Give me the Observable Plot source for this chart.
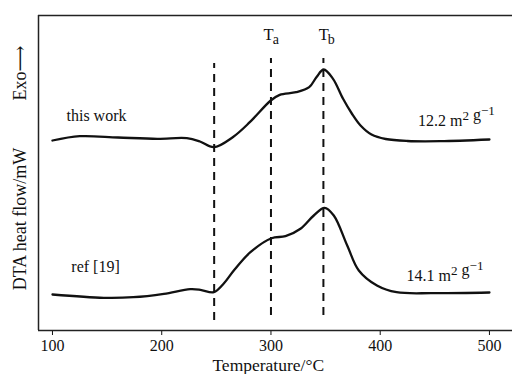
<!DOCTYPE html>
<html>
<head>
<meta charset="utf-8">
<script src="https://cdn.jsdelivr.net/npm/d3@7"></script>
<script src="https://cdn.jsdelivr.net/npm/@observablehq/plot@0.6"></script>
<style>
  html, body { margin: 0; padding: 0; background: #fff; }
  svg text { font-family: "Liberation Serif", "DejaVu Serif", serif; }
</style>
</head>
<body>
<div id="chart"></div>
<script>
// Temperature (°C) and DTA signal (arbitrary units, curves offset vertically)
const thisWorkT = [100, 125, 160, 196, 223, 235, 247.7, 265, 280.6, 299.8, 308, 323, 335, 341.6, 348.3, 356.8, 366, 374, 382, 392, 405, 425, 455, 500];
const thisWorkV = [190, 194.3, 193, 191.7, 192.3, 189, 183.3, 193.3, 208.3, 230, 235.7, 238.3, 243.3, 253.3, 261, 251.7, 231.7, 217, 205, 196, 191.5, 189.5, 189.3, 191];
const refT = [100, 147, 174, 202, 226, 235.4, 247.7, 256.8, 266, 281.2, 300.5, 313.3, 327, 339.2, 349, 357.5, 369.8, 380.4, 397, 415, 448, 500];
const refV = [36, 32.7, 33.3, 36.7, 41.3, 40.7, 38.3, 47, 60, 78.3, 92.3, 94.3, 101.7, 115, 122.7, 115, 85, 60, 45, 38.3, 37.3, 38];
const markers = [
  {t: 248, lo: 10, hi: 267},
  {t: 300, lo: 15, hi: 272},
  {t: 348, lo: 15, hi: 272}
];
const markerLabels = [{x: 297.7, t: "T", s: "a"}, {x: 348.3, t: "T", s: "b"}];
const curveLabels = [
  {x: 140.3, y: 214.4, text: "this work"},
  {x: 139.4, y: 63.4, text: "ref [19]"}
];
const areaLabels = [
  {x: 505, y: 210.1, text: "12.2 m^2 g^−1"},
  {x: 494.5, y: 55.1, text: "14.1 m^2 g^−1"}
];
const xTicks = [100, 200, 300, 400, 500];

const thisWork = thisWorkT.map((t, i) => ({t, v: thisWorkV[i]}));
const ref = refT.map((t, i) => ({t, v: refV[i]}));

const plot = Plot.plot({
  width: 512,
  height: 374,
  marginLeft: 38,
  marginRight: 0,
  marginTop: 15,
  marginBottom: 44,
  style: {fontFamily: "Liberation Serif, serif", fontSize: "16px", color: "#111", background: "#fff"},
  x: {domain: [87.2, 521.1], ticks: xTicks, tickSize: 5, tickPadding: 4, label: null},
  y: {domain: [0, 315], axis: null},
  marks: [
    Plot.ruleX([87.2], {stroke: "#222", strokeWidth: 1.5}),
    Plot.ruleY([0, 315], {stroke: "#222", strokeWidth: 1.5}),
    Plot.ruleX(markers, {x: "t", y1: "lo", y2: "hi", stroke: "#111", strokeWidth: 2, strokeDasharray: "8,6"}),
    Plot.line(thisWork, {x: "t", y: "v", curve: "catmull-rom", stroke: "#111", strokeWidth: 2.3}),
    Plot.line(ref, {x: "t", y: "v", curve: "catmull-rom", stroke: "#111", strokeWidth: 2.3}),
    Plot.text(markerLabels, {x: "x", y: () => 296, text: "t", fontSize: 16.5, textAnchor: "middle"}),
    Plot.text(markerLabels, {x: "x", y: () => 291.2, text: "s", dx: 7.5, fontSize: 14, textAnchor: "middle"}),
    Plot.text(curveLabels, {x: "x", y: "y", text: "text", fontSize: 16, textAnchor: "middle"}),
    Plot.text(areaLabels, {x: "x", y: "y", text: "text", fontSize: 16, textAnchor: "end", className: "area-label"}),
    Plot.text(["DTA heat flow/mW"], {frameAnchor: "left", y: () => 111.5, dx: -18, rotate: -90, fontSize: 18, textAnchor: "middle", lineAnchor: "middle"}),
    Plot.text(["Exo⟶"], {frameAnchor: "left", y: () => 257.5, dx: -18, rotate: -90, fontSize: 18, textAnchor: "middle", lineAnchor: "middle"}),
    Plot.text(["Temperature/°C"], {frameAnchor: "bottom", x: () => 297.5, dy: 35.2, fontSize: 17.5, textAnchor: "middle", lineAnchor: "middle"})
  ]
});

// render superscripts in the specific-surface-area labels
d3.select(plot).selectAll(".area-label text").each(function() {
  const s = this.textContent;
  if (!s.includes("^")) return;
  const el = d3.select(this);
  el.text(null);
  const parts = s.split(/(\^[^ ]+)/).filter(p => p.length);
  for (const p of parts) {
    if (p.startsWith("^")) {
      el.append("tspan").attr("dy", "-0.42em").attr("font-size", "0.82em").text(p.slice(1));
      el.append("tspan").attr("dy", "0.35em").text("");
    } else {
      el.append("tspan").text(p);
    }
  }
});

d3.select(plot).selectAll("[aria-label='x-axis tick label'] text").attr("font-size", 16);
document.getElementById("chart").appendChild(plot);
</script>
</body>
</html>
